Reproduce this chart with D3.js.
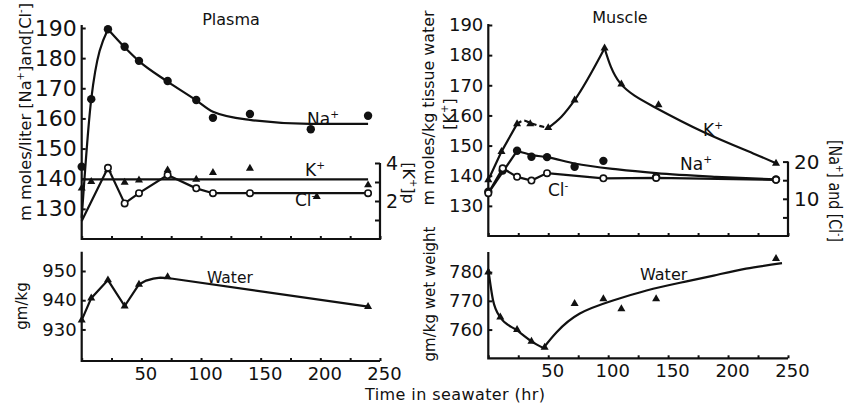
<!DOCTYPE html>
<html>
<head>
<meta charset="utf-8">
<script src="https://cdn.jsdelivr.net/npm/d3@7"></script>
<style>
body { margin: 0; background: #fff; }
svg { font-family: "DejaVu Sans", sans-serif; }
</style>
</head>
<body>
<svg id="chart" width="853" height="405"></svg>
<script>
// ---- plasma, top panel (hours in seawater) ----
var plasmaNaTimes = [0, 8, 22, 36, 48, 72, 96, 110, 141, 192, 240];
var plasmaNa = [144, 166.4, 189.6, 183.8, 179.1, 172.4, 166.1, 160.2, 161.5, 156.4, 160.9];
var plasmaNaRiseTimes = [0, 8, 22];
var plasmaNaRise = [127, 166.4, 189.6];
var plasmaNaFallTimes = [22, 36, 48, 72, 96, 110, 141, 191, 240];
var plasmaNaFall = [189.6, 183.6, 179, 172.2, 166, 162.2, 159.5, 158.2, 158.2];

var plasmaKTimes = [0, 8, 22, 36, 48, 72, 96, 110, 141, 197, 240];
var plasmaK = [2.67, 3.02, 3.63, 2.98, 3.1, 3.63, 3.14, 3.49, 3.72, 2.23, 2.84];
var plasmaKLevel = 3.14;

var plasmaClTimes = [0, 22, 36, 48, 72, 96, 110, 141, 240];
var plasmaCl = [126, 143.6, 131.8, 135.2, 141.2, 136.8, 135.2, 135.2, 135.2];

// ---- plasma water ----
var plasmaWaterTimes = [0, 8, 22, 36, 48, 72, 240];
var plasmaWater = [933.2, 940.7, 946.9, 938.0, 945.4, 948.0, 937.8];
var plasmaWaterLineTimes = [0, 8, 22, 36, 48, 54, 60, 66, 72, 240];
var plasmaWaterLine = [933.2, 940.7, 946.9, 938.0, 945.4, 946.7, 947.4, 947.7, 947.6, 937.8];

// ---- muscle, top panel ----
var muscleKTimes = [0, 11, 24, 35, 50, 72, 97, 111, 142, 240];
var muscleK = [138.6, 148, 157.2, 157.2, 155.9, 165.1, 182.3, 170.4, 163.5, 144.1];
var muscleKRiseTimes = [0, 11, 24];
var muscleKRise = [138.6, 148, 157.2];
var muscleKDipTimes = [24, 30, 35, 42, 50];
var muscleKDip = [157.2, 158.3, 157.5, 156.6, 155.9];
var muscleKClimbTimes = [50, 61, 72, 97];
var muscleKClimb = [155.9, 159.6, 165.1, 182.3];
var muscleKFallTimes = [97, 110, 138, 179, 221, 240];
var muscleKFall = [182.3, 170.7, 162.9, 154.6, 147.4, 144.1];

var muscleNaTimes = [0, 12, 24, 36, 49, 72, 96, 140, 240];
var muscleNa = [11.9, 17.6, 22.9, 21.3, 21.2, 18.6, 20.2, 15.9, 15.2];
var muscleNaFitTimes = [0, 24, 36, 49, 72, 108, 140, 190, 240];
var muscleNaFit = [11.5, 22.9, 21.8, 21.2, 19.5, 17.9, 16.9, 15.9, 15.2];

var muscleClTimes = [0, 12, 24, 36, 49, 96, 140, 240];
var muscleCl = [11.5, 18.2, 15.9, 14.9, 16.9, 15.5, 15.6, 15.1];

// ---- muscle water ----
var muscleWaterTimes = [0, 10, 24, 36, 47, 72, 96, 111, 140, 240];
var muscleWater = [780, 764.3, 760, 755.9, 753.8, 769, 770.7, 767.2, 770.7, 784.7];
var muscleWaterDownTimes = [0, 4, 10, 24, 36, 46];
var muscleWaterDown = [781, 770.1, 764.3, 759.7, 755.9, 753.6];
var muscleWaterUpTimes = [46, 57, 76, 104, 132, 160, 188, 215, 245];
var muscleWaterUp = [753.6, 759.1, 765.5, 770.1, 773.6, 776.3, 778.8, 781.2, 783.1];

var xTickValues = [0, 25, 50, 75, 100, 125, 150, 175, 200, 225, 250];
var ink = "#111";

var svg = d3.select("#chart");

var xPlasma = d3.scaleLinear().domain([0, 250]).range([81.7, 380]);
var xMuscle = d3.scaleLinear().domain([0, 250]).range([488.3, 788]);
var yPlasmaTop = d3.scaleLinear().domain([120, 190]).range([239, 28]);
var yPlasmaK = d3.scaleLinear().domain([0, 4]).range([239, 163]);
var yPlasmaWater = d3.scaleLinear().domain([919.2, 956.6]).range([361, 251.7]);
var yMuscleTop = d3.scaleLinear().domain([120, 190]).range([236, 25]);
var yMuscleIons = d3.scaleLinear().domain([0, 20]).range([236, 161.6]);
var yMuscleWater = d3.scaleLinear().domain([750, 787]).range([358.3, 252]);

function zip(ts, vs) {
    return ts.map(function(t, i) { return [t, vs[i]]; });
}

function drawLine(x, y, ts, vs, curve, dash) {
    var line = d3.line()
        .x(function(d) { return x(d[0]); })
        .y(function(d) { return y(d[1]); })
        .curve(curve || d3.curveLinear);
    svg.append("path")
        .attr("d", line(zip(ts, vs)))
        .attr("fill", "none")
        .attr("stroke", ink)
        .attr("stroke-width", 2.2)
        .attr("stroke-dasharray", dash || null);
}

function drawMarks(x, y, ts, vs, kind) {
    var pts = zip(ts, vs);
    if (kind === "tri") {
        svg.append("g").selectAll("path").data(pts).enter()
            .append("path")
            .attr("d", d3.symbol().type(d3.symbolTriangle).size(28))
            .attr("transform", function(d) { return "translate(" + x(d[0]) + "," + y(d[1]) + ")"; })
            .attr("fill", ink);
    } else {
        svg.append("g").selectAll("circle").data(pts).enter()
            .append("circle")
            .attr("cx", function(d) { return x(d[0]); })
            .attr("cy", function(d) { return y(d[1]); })
            .attr("r", kind === "dot" ? 4.2 : 3.2)
            .attr("fill", kind === "dot" ? ink : "#fff")
            .attr("stroke", ink)
            .attr("stroke-width", kind === "dot" ? 0 : 1.6);
    }
}

function axisLine(points) {
    svg.append("path")
        .attr("d", d3.line()(points))
        .attr("fill", "none")
        .attr("stroke", ink)
        .attr("stroke-width", 2.2);
}

function styleAxis(g, size) {
    g.select(".domain").remove();
    g.selectAll("line").attr("stroke", ink).attr("stroke-width", 2);
    g.selectAll("text").attr("fill", ink).attr("font-size", size).attr("font-family", "DejaVu Sans");
}

function xAxis(x, yPix, labelled) {
    var ax = d3.axisBottom(x).tickValues(xTickValues).tickSize(-3).tickPadding(6)
        .tickFormat(function(d) { return labelled && d > 0 && d % 50 === 0 ? d : ""; });
    var g = svg.append("g").attr("transform", "translate(0," + yPix + ")").call(ax);
    styleAxis(g, 18);
    g.selectAll("text").attr("dx", 4);
}

function yAxisLeft(y, xPix, ticks, size) {
    var ax = d3.axisLeft(y).tickValues(ticks).tickSize(-4).tickPadding(5);
    var g = svg.append("g").attr("transform", "translate(" + xPix + ",0)").call(ax);
    styleAxis(g, size);
}

function yAxisRight(y, xPix, ticks, labels, size) {
    var ax = d3.axisRight(y).tickValues(ticks).tickSize(-5).tickPadding(6)
        .tickFormat(function(d) { return labels.indexOf(d) >= 0 ? d : ""; });
    var g = svg.append("g").attr("transform", "translate(" + xPix + ",0)").call(ax);
    styleAxis(g, size);
}

// text with superscripts: parts = [[string, isSup], ...]
function richText(parts, x, y, size, rotate, anchor, length) {
    var t = svg.append("text")
        .attr("transform", "translate(" + x + "," + y + ")" + (rotate ? " rotate(" + rotate + ")" : ""))
        .attr("font-size", size)
        .attr("fill", ink)
        .attr("text-anchor", anchor || "start");
    if (length) t.attr("textLength", length).attr("lengthAdjust", "spacingAndGlyphs");
    var shift = 0;
    parts.forEach(function(p) {
        var target = p[1] ? -size * 0.42 : 0;
        t.append("tspan")
            .attr("dy", target - shift)
            .attr("font-size", p[1] ? size * 0.62 : size)
            .text(p[0]);
        shift = target;
    });
    return t;
}

// ---------- frames ----------
axisLine([[xPlasma(0), yPlasmaTop.range()[1] - 3], [xPlasma(0), 239], [xPlasma(250), 239], [xPlasma(250), yPlasmaK(4)]]);
axisLine([[xPlasma(0), 251.7], [xPlasma(0), 361], [xPlasma(250), 361]]);
axisLine([[xMuscle(0), 24], [xMuscle(0), 236], [xMuscle(250), 236], [xMuscle(250), yMuscleIons(20)]]);
axisLine([[xMuscle(0), 252], [xMuscle(0), 358.3], [xMuscle(250), 358.3]]);

xAxis(xPlasma, 239, false);
xAxis(xPlasma, 361, true);
xAxis(xMuscle, 236, false);
xAxis(xMuscle, 358.3, true);

yAxisLeft(yPlasmaTop, xPlasma(0), [130, 140, 150, 160, 170, 180, 190], 22);
yAxisLeft(yPlasmaWater, xPlasma(0), [930, 940, 950], 18);
yAxisLeft(yMuscleTop, xMuscle(0), [130, 140, 150, 160, 170, 180, 190], 18);
yAxisLeft(yMuscleWater, xMuscle(0), [760, 770, 780], 18);
yAxisRight(yPlasmaK, xPlasma(250), [1, 2, 3, 4], [2, 4], 19);
yAxisRight(yMuscleIons, xMuscle(250), [5, 10, 15, 20], [10, 20], 20);

// ---------- plasma ----------
drawLine(xPlasma, yPlasmaTop, plasmaNaRiseTimes, plasmaNaRise, d3.curveMonotoneX);
drawLine(xPlasma, yPlasmaTop, plasmaNaFallTimes, plasmaNaFall, d3.curveMonotoneX);
drawMarks(xPlasma, yPlasmaTop, plasmaNaTimes, plasmaNa, "dot");

drawLine(xPlasma, yPlasmaK, [0, 240], [plasmaKLevel, plasmaKLevel]);
drawMarks(xPlasma, yPlasmaK, plasmaKTimes, plasmaK, "tri");

drawLine(xPlasma, yPlasmaTop, plasmaClTimes, plasmaCl);
drawMarks(xPlasma, yPlasmaTop, plasmaClTimes.slice(1), plasmaCl.slice(1), "open");

drawLine(xPlasma, yPlasmaWater, plasmaWaterLineTimes, plasmaWaterLine);
drawMarks(xPlasma, yPlasmaWater, plasmaWaterTimes, plasmaWater, "tri");

// ---------- muscle ----------
drawLine(xMuscle, yMuscleTop, muscleKRiseTimes, muscleKRise);
drawLine(xMuscle, yMuscleTop, muscleKDipTimes, muscleKDip, d3.curveMonotoneX, "5,3");
drawLine(xMuscle, yMuscleTop, muscleKClimbTimes, muscleKClimb, d3.curveMonotoneX);
drawLine(xMuscle, yMuscleTop, muscleKFallTimes, muscleKFall, d3.curveNatural);
drawMarks(xMuscle, yMuscleTop, muscleKTimes, muscleK, "tri");

drawLine(xMuscle, yMuscleIons, muscleNaFitTimes.slice(0, 2), muscleNaFit.slice(0, 2));
drawLine(xMuscle, yMuscleIons, muscleNaFitTimes.slice(1), muscleNaFit.slice(1), d3.curveMonotoneX);
drawMarks(xMuscle, yMuscleIons, muscleNaTimes, muscleNa, "dot");

drawLine(xMuscle, yMuscleIons, muscleClTimes, muscleCl);
drawMarks(xMuscle, yMuscleIons, muscleClTimes, muscleCl, "open");

drawLine(xMuscle, yMuscleWater, muscleWaterDownTimes, muscleWaterDown, d3.curveMonotoneX);
drawLine(xMuscle, yMuscleWater, muscleWaterUpTimes, muscleWaterUp, d3.curveNatural);
drawMarks(xMuscle, yMuscleWater, muscleWaterTimes, muscleWater, "tri");

// ---------- labels ----------
svg.append("text").attr("x", 231).attr("y", 25).attr("text-anchor", "middle")
    .attr("font-size", 16).attr("fill", ink).text("Plasma");
svg.append("text").attr("x", 620).attr("y", 23).attr("text-anchor", "middle")
    .attr("font-size", 16).attr("fill", ink).text("Muscle");

richText([["Na", false], ["+", true]], 307, 125, 17);
richText([["K", false], ["+", true]], 305, 176, 17);
richText([["Cl", false], ["-", true]], 295, 206, 17);
richText([["K", false], ["+", true]], 703, 136, 17);
richText([["Na", false], ["+", true]], 680, 170, 17);
richText([["Cl", false], ["-", true]], 548, 196, 17);
svg.append("text").attr("x", 207).attr("y", 283).attr("font-size", 15.5).attr("fill", ink).text("Water");
svg.append("text").attr("x", 640).attr("y", 280).attr("font-size", 16).attr("fill", ink).text("Water");

// axis titles
richText([["m moles/liter  [Na", false], ["+", true], ["]and[Cl", false], ["-", true], ["]", false]],
    31, 112, 16, -90, "middle", 218);
svg.append("text").attr("transform", "translate(27,306) rotate(-90)").attr("text-anchor", "middle")
    .attr("font-size", 15).attr("fill", ink).text("gm/kg");
svg.append("text").attr("transform", "translate(434,108) rotate(-90)").attr("text-anchor", "middle")
    .attr("font-size", 16).attr("fill", ink).attr("textLength", 195).attr("lengthAdjust", "spacingAndGlyphs")
    .text("m moles/kg tissue water");
richText([["[K", false], ["+", true], ["]", false]], 455, 114, 16, -90, "middle");
svg.append("text").attr("transform", "translate(435,294) rotate(-90)").attr("text-anchor", "middle")
    .attr("font-size", 15).attr("fill", ink).attr("textLength", 135).attr("lengthAdjust", "spacingAndGlyphs")
    .text("gm/kg wet weight");
richText([["[K", false], ["+", true], ["]p", false]], 403, 183, 16, 90, "middle");
richText([["[Na", false], ["+", true], ["] and [Cl", false], ["-", true], ["]", false]],
    829, 191, 17, 90, "middle", 102);

svg.append("text").attr("x", 365).attr("y", 400).attr("font-size", 16).attr("fill", ink)
    .attr("textLength", 180).attr("lengthAdjust", "spacing").text("Time in seawater (hr)");
</script>
</body>
</html>
